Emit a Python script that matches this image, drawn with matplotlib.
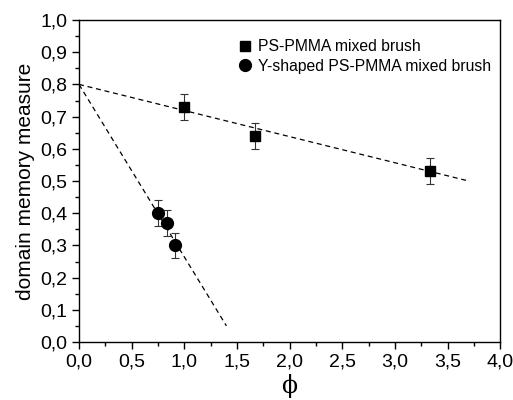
import matplotlib
matplotlib.use("Agg")
import matplotlib.pyplot as plt
from matplotlib.ticker import MultipleLocator, FuncFormatter

plt.rcParams["font.family"] = ["Liberation Sans", "DejaVu Sans"]

# PS-PMMA mixed brush
phi_lin = [1.0, 1.67, 3.33]
mem_lin = [0.73, 0.64, 0.53]
err_lin = [0.04, 0.04, 0.04]

# Y-shaped PS-PMMA mixed brush
phi_y = [0.75, 0.84, 0.91]
mem_y = [0.40, 0.37, 0.30]
err_y = [0.04, 0.04, 0.04]

# dashed guide lines (endpoints)
fit_lin_x = [0.0, 3.7]
fit_lin_y = [0.80, 0.50]
fit_y_x = [0.0, 1.4]
fit_y_y = [0.80, 0.05]

fig = plt.figure(figsize=(5.13, 4.0), dpi=100)
ax = fig.add_axes([0.154, 0.145, 0.821, 0.805])

ax.plot(fit_lin_x, fit_lin_y, color="black", linestyle=(0, (4, 3)), linewidth=0.9)
ax.plot(fit_y_x, fit_y_y, color="black", linestyle=(0, (4, 3)), linewidth=0.9)

eb1 = ax.errorbar(phi_lin, mem_lin, yerr=err_lin, fmt="s", color="black",
                  markersize=7.5, ecolor="#333333", elinewidth=0.8, capsize=3,
                  capthick=0.8)
eb2 = ax.errorbar(phi_y, mem_y, yerr=err_y, fmt="o", color="black",
                  markersize=8.5, ecolor="#333333", elinewidth=0.8, capsize=3,
                  capthick=0.8)

ax.set_xlim(0, 4.0)
ax.set_ylim(0, 1.0)
ax.xaxis.set_major_locator(MultipleLocator(0.5))
ax.xaxis.set_minor_locator(MultipleLocator(0.25))
ax.yaxis.set_major_locator(MultipleLocator(0.1))
ax.yaxis.set_minor_locator(MultipleLocator(0.05))

comma = FuncFormatter(lambda v, p: f"{v:.1f}".replace(".", ","))
ax.xaxis.set_major_formatter(comma)
ax.yaxis.set_major_formatter(comma)

ax.tick_params(which="major", direction="out", length=5, width=1, labelsize=14)
ax.tick_params(which="minor", direction="out", length=3, width=1)
ax.tick_params(top=False, right=False)
for s in ax.spines.values():
    s.set_linewidth(1)

ax.set_xlabel("\u03d5", fontsize=17, family="DejaVu Serif", labelpad=2)
ax.set_ylabel("domain memory measure", fontsize=15, labelpad=4)

ax.legend([eb1[0], eb2[0]],
          ["PS-PMMA mixed brush", "Y-shaped PS-PMMA mixed brush"],
          loc="upper right", bbox_to_anchor=(1.0, 0.97), frameon=False,
          fontsize=11.3, handletextpad=0.2, labelspacing=0.3,
          handlelength=1.2, borderaxespad=0.2)

plt.savefig("out.png", dpi=100)
plt.close()
